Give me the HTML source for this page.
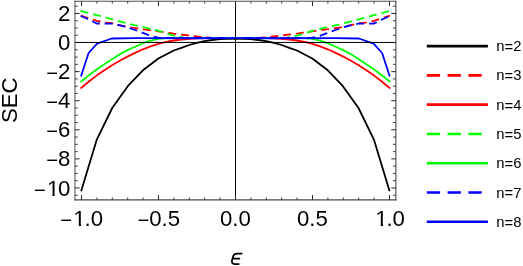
<!DOCTYPE html><html><head><meta charset="utf-8"><style>html,body{margin:0;padding:0;background:#fff;}svg{display:block;will-change:transform;}text{font-family:"Liberation Sans",sans-serif;fill:#000;}</style></head><body>
<svg width="523" height="266" viewBox="0 0 523 266">
<rect width="523" height="266" fill="#fff"/>
<clipPath id="c"><rect x="74.70" y="1.50" width="321.00" height="197.90"/></clipPath>
<g fill="none" stroke-width="1.80" stroke-linejoin="round" stroke-linecap="square" clip-path="url(#c)">
<path d="M81.35 190.40 L96.80 139.60 L112.20 108.00 L128.00 85.90 L142.90 70.30 L158.40 58.50 L173.70 50.50 L181.40 47.80 L189.10 45.00 L196.80 42.90 L204.50 41.20 L212.20 40.00 L220.00 39.20 L227.70 38.80 L235.35 38.70 L243.00 38.80 L250.70 39.20 L258.50 40.00 L266.20 41.20 L273.90 42.90 L281.60 45.00 L289.30 47.80 L297.00 50.50 L312.30 58.50 L327.80 70.30 L342.70 85.90 L358.50 108.00 L373.90 139.60 L389.35 190.40" stroke="#000"/>
<path d="M81.55 15.95 L96.60 20.80 L104.30 22.50 L112.00 23.20 L127.40 27.00 L142.80 29.20 L158.30 31.30 L173.70 33.60 L189.10 35.50 L204.50 37.20 L212.00 37.80 L220.00 38.10 L235.35 38.00 L250.70 38.10 L258.70 37.80 L266.20 37.20 L281.60 35.50 L297.00 33.60 L312.40 31.30 L327.90 29.20 L343.30 27.00 L358.70 23.20 L366.40 22.50 L374.10 20.80 L389.15 15.95" stroke="#f00" stroke-dasharray="6.15 6.65"/>
<path d="M81.20 87.90 L88.90 81.50 L96.60 75.60 L104.30 70.20 L112.00 65.20 L119.70 60.80 L127.40 56.60 L135.10 52.90 L142.90 49.30 L150.60 46.30 L158.30 43.90 L166.00 41.90 L173.70 40.50 L181.40 39.50 L189.10 38.80 L196.80 38.30 L204.50 38.10 L212.00 38.00 L235.35 38.00 L258.70 38.00 L266.20 38.10 L273.90 38.30 L281.60 38.80 L289.30 39.50 L297.00 40.50 L304.70 41.90 L312.40 43.90 L320.10 46.30 L327.80 49.30 L335.60 52.90 L343.30 56.60 L351.00 60.80 L358.70 65.20 L366.40 70.20 L374.10 75.60 L381.80 81.50 L389.50 87.90" stroke="#f00"/>
<path d="M81.55 11.15 L96.60 15.10 L112.00 19.30 L127.40 23.50 L142.80 26.90 L158.30 30.80 L173.70 35.70 L184.00 37.60 L190.00 38.00 L235.35 38.00 L280.70 38.00 L286.70 37.60 L297.00 35.70 L312.40 30.80 L327.90 26.90 L343.30 23.50 L358.70 19.30 L374.10 15.10 L389.15 11.15" stroke="#0f0" stroke-dasharray="6.15 6.65"/>
<path d="M81.20 81.40 L88.90 75.20 L96.60 69.50 L104.30 64.20 L112.00 59.30 L119.70 54.20 L127.40 50.10 L135.10 46.70 L142.90 43.20 L150.60 40.60 L158.30 38.80 L166.00 38.10 L173.70 38.00 L235.35 38.00 L297.00 38.00 L304.70 38.10 L312.40 38.80 L320.10 40.60 L327.80 43.20 L335.60 46.70 L343.30 50.10 L351.00 54.20 L358.70 59.30 L366.40 64.20 L374.10 69.50 L381.80 75.20 L389.50 81.40" stroke="#0f0"/>
<path d="M81.55 16.30 L88.90 19.50 L96.60 23.50 L112.00 23.60 L119.70 25.30 L127.40 27.30 L135.10 30.00 L142.80 32.80 L150.50 35.80 L158.30 37.70 L164.00 38.00 L235.35 38.00 L306.70 38.00 L312.40 37.70 L320.20 35.80 L327.90 32.80 L335.60 30.00 L343.30 27.30 L351.00 25.30 L358.70 23.60 L374.10 23.50 L381.80 19.50 L389.15 16.30" stroke="#00f" stroke-dasharray="6.15 6.65"/>
<path d="M81.20 75.70 L88.60 53.00 L97.10 43.70 L111.80 38.50 L136.00 38.10 L200.00 38.25 L235.35 38.05 L270.70 38.25 L334.70 38.10 L358.90 38.50 L373.60 43.70 L382.10 53.00 L389.50 75.70" stroke="#00f"/>
</g>
<g stroke="#000" stroke-width="1.00" fill="none">
<line x1="74.70" y1="42.45" x2="395.70" y2="42.45"/>
<line x1="235.50" y1="1.50" x2="235.50" y2="199.40"/>
</g>
<g stroke="#4c4c4c" stroke-width="1.10" fill="none">
<path d="M74.45 1.30H396.40" stroke-width="1.1"/>
<path d="M74.45 199.90H396.40" stroke-width="1.15"/>
<path d="M74.95 0.75V200.47" stroke-width="1.0"/>
<path d="M395.85 0.75V200.47" stroke-width="1.1"/>
<path d="M81.50 199.90v-4.80M81.50 1.30v4.70M158.50 199.90v-4.80M158.50 1.30v4.70M235.50 199.90v-4.80M235.50 1.30v4.70M312.50 199.90v-4.80M312.50 1.30v4.70M389.50 199.90v-4.80M389.50 1.30v4.70M74.95 187.95h4.60M395.85 187.95h-4.60M74.95 158.87h4.60M395.85 158.87h-4.60M74.95 129.79h4.60M395.85 129.79h-4.60M74.95 100.71h4.60M395.85 100.71h-4.60M74.95 71.63h4.60M395.85 71.63h-4.60M74.95 42.55h4.60M395.85 42.55h-4.60M74.95 13.47h4.60M395.85 13.47h-4.60" stroke="#1c1c1c" stroke-width="0.95"/>
<path d="M96.90 199.90v-2.50M96.90 1.30v2.40M112.30 199.90v-2.50M112.30 1.30v2.40M127.70 199.90v-2.50M127.70 1.30v2.40M143.10 199.90v-2.50M143.10 1.30v2.40M173.90 199.90v-2.50M173.90 1.30v2.40M189.30 199.90v-2.50M189.30 1.30v2.40M204.70 199.90v-2.50M204.70 1.30v2.40M220.10 199.90v-2.50M220.10 1.30v2.40M250.90 199.90v-2.50M250.90 1.30v2.40M266.30 199.90v-2.50M266.30 1.30v2.40M281.70 199.90v-2.50M281.70 1.30v2.40M297.10 199.90v-2.50M297.10 1.30v2.40M327.90 199.90v-2.50M327.90 1.30v2.40M343.30 199.90v-2.50M343.30 1.30v2.40M358.70 199.90v-2.50M358.70 1.30v2.40M374.10 199.90v-2.50M374.10 1.30v2.40M74.95 195.22h2.90M395.85 195.22h-2.90M74.95 180.68h2.90M395.85 180.68h-2.90M74.95 173.41h2.90M395.85 173.41h-2.90M74.95 166.14h2.90M395.85 166.14h-2.90M74.95 151.60h2.90M395.85 151.60h-2.90M74.95 144.33h2.90M395.85 144.33h-2.90M74.95 137.06h2.90M395.85 137.06h-2.90M74.95 122.52h2.90M395.85 122.52h-2.90M74.95 115.25h2.90M395.85 115.25h-2.90M74.95 107.98h2.90M395.85 107.98h-2.90M74.95 93.44h2.90M395.85 93.44h-2.90M74.95 86.17h2.90M395.85 86.17h-2.90M74.95 78.90h2.90M395.85 78.90h-2.90M74.95 64.36h2.90M395.85 64.36h-2.90M74.95 57.09h2.90M395.85 57.09h-2.90M74.95 49.82h2.90M395.85 49.82h-2.90M74.95 35.28h2.90M395.85 35.28h-2.90M74.95 28.01h2.90M395.85 28.01h-2.90M74.95 20.74h2.90M395.85 20.74h-2.90M74.95 6.20h2.90M395.85 6.20h-2.90" stroke="#222" stroke-width="0.85"/>
</g>
<g font-size="22.20">
<text x="60.37" y="225.7"><tspan font-size="20.2" dy="1.00">−</tspan><tspan class="one" dy="-1.00" dx="1.20">1</tspan><tspan dx="-1.20">.0</tspan></text>
<text x="137.45" y="225.7"><tspan font-size="20.2" dy="1.00">−</tspan><tspan dy="-1.00">0.5</tspan></text>
<text x="219.92" y="225.7">0.0</text>
<text x="296.99" y="225.7">0.5</text>
<text x="374.07" y="225.7"><tspan class="one" dx="1.20">1</tspan><tspan dx="-1.20">.0</tspan></text>
<text x="58.05" y="21.02">2</text>
<text x="58.05" y="50.10">0</text>
<text x="46.26" y="79.18"><tspan font-size="20.2" dy="1.00">−</tspan><tspan dy="-1.00">2</tspan></text>
<text x="46.26" y="108.26"><tspan font-size="20.2" dy="1.00">−</tspan><tspan dy="-1.00">4</tspan></text>
<text x="46.26" y="137.34"><tspan font-size="20.2" dy="1.00">−</tspan><tspan dy="-1.00">6</tspan></text>
<text x="46.26" y="166.42"><tspan font-size="20.2" dy="1.00">−</tspan><tspan dy="-1.00">8</tspan></text>
<text x="33.91" y="195.50"><tspan font-size="20.2" dy="1.00">−</tspan><tspan class="one" dy="-1.00" dx="1.20">1</tspan><tspan dx="-1.20">0</tspan></text>
<text transform="translate(16.5 100.2) rotate(-90)" text-anchor="middle">SEC</text>
</g>
<rect x="73.87" y="223.74" width="4.96" height="2.56" fill="#fff"/>
<rect x="81.03" y="223.74" width="4.60" height="2.56" fill="#fff"/>
<rect x="375.77" y="223.74" width="4.96" height="2.56" fill="#fff"/>
<rect x="382.93" y="223.74" width="4.60" height="2.56" fill="#fff"/>
<rect x="47.41" y="193.54" width="4.96" height="2.56" fill="#fff"/>
<rect x="54.57" y="193.54" width="4.60" height="2.56" fill="#fff"/>
<path d="M241.7 253.5 L237.2 253.5 C235.1 253.5 233.9 254.4 233.3 256.1 L232.1 260.1 C231.5 262.6 232.4 264.0 234.7 264.0 L238.7 264.0 M232.8 258.7 L239.4 258.7" fill="none" stroke="#000" stroke-width="1.75" stroke-linecap="round" stroke-linejoin="round"/>
<g font-size="14.80">
<line x1="426.8" y1="46.10" x2="487.9" y2="46.10" stroke="#000" stroke-width="2.6"/>
<text x="496.3" y="51.10">n<tspan dy="0.9">=</tspan><tspan dy="-0.9">2</tspan></text>
<line x1="426.8" y1="75.38" x2="487.9" y2="75.38" stroke="#f00" stroke-width="2.6" stroke-dasharray="13.3 7.5"/>
<text x="496.3" y="80.38">n<tspan dy="0.9">=</tspan><tspan dy="-0.9">3</tspan></text>
<line x1="426.8" y1="104.66" x2="487.9" y2="104.66" stroke="#f00" stroke-width="2.6"/>
<text x="496.3" y="109.66">n<tspan dy="0.9">=</tspan><tspan dy="-0.9">4</tspan></text>
<line x1="426.8" y1="133.94" x2="487.9" y2="133.94" stroke="#0f0" stroke-width="2.6" stroke-dasharray="13.3 7.5"/>
<text x="496.3" y="138.94">n<tspan dy="0.9">=</tspan><tspan dy="-0.9">5</tspan></text>
<line x1="426.8" y1="163.22" x2="487.9" y2="163.22" stroke="#0f0" stroke-width="2.6"/>
<text x="496.3" y="168.22">n<tspan dy="0.9">=</tspan><tspan dy="-0.9">6</tspan></text>
<line x1="426.8" y1="192.50" x2="487.9" y2="192.50" stroke="#00f" stroke-width="2.6" stroke-dasharray="13.3 7.5"/>
<text x="496.3" y="197.50">n<tspan dy="0.9">=</tspan><tspan dy="-0.9">7</tspan></text>
<line x1="426.8" y1="221.78" x2="487.9" y2="221.78" stroke="#00f" stroke-width="2.6"/>
<text x="496.3" y="226.78">n<tspan dy="0.9">=</tspan><tspan dy="-0.9">8</tspan></text>
</g>
</svg></body></html>
